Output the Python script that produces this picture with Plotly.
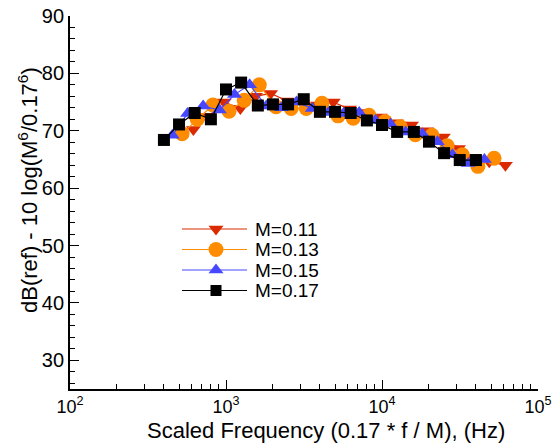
import plotly.graph_objects as go

# Scaled frequency (Hz) for each Mach number series
freq_m011 = [618, 773, 974, 1236, 1545, 1932, 2473, 3091, 3864, 4868, 6182, 7727,
             9736, 12364, 15455, 19318, 24727, 30909, 38636, 48682, 61818]
freq_m013 = [523, 654, 824, 1046, 1308, 1635, 2092, 2615, 3269, 4119, 5231, 6538,
             8238, 10462, 13077, 16346, 20923, 26154, 32692, 41192, 52308]
freq_m015 = [453, 567, 714, 907, 1133, 1417, 1813, 2267, 2833, 3570, 4533, 5667,
             7140, 9067, 11333, 14167, 18133, 22667, 28333, 35700, 45333]
freq_m017 = [400, 500, 630, 800, 1000, 1250, 1600, 2000, 2500, 3150, 4000, 5000,
             6300, 8000, 10000, 12500, 16000, 20000, 25000, 31500, 40000]

# Scaled levels dB(ref) - 10 log(M^6/0.17^6)
db_m011 = [70.2, 72.5, 75.0, 73.9, 76.0, 76.5, 75.2, 74.8, 74.5, 75.0, 73.8, 73.2,
           72.4, 71.4, 71.0, 70.0, 68.9, 66.9, 65.3, 64.6, 64.0]
db_m013 = [69.5, 72.0, 74.5, 73.4, 75.3, 78.0, 74.2, 73.9, 73.9, 74.8, 72.6, 72.2,
           72.7, 71.6, 70.7, 69.3, 69.2, 67.4, 65.8, 63.8, 65.2]
db_m015 = [69.2, 73.0, 74.3, 73.6, 76.3, 78.0, 74.3, 74.0, 75.0, 73.9, 73.2, 73.0,
           73.2, 71.8, 71.2, 69.8, 69.5, 68.1, 65.8, 64.3, 65.0]
db_m017 = [68.4, 71.1, 73.1, 72.0, 77.2, 78.4, 74.4, 74.6, 74.6, 75.5, 73.3, 73.3,
           73.1, 71.8, 71.0, 69.8, 69.8, 68.1, 66.1, 64.9, 64.9]

series_names = ["M=0.11", "M=0.13", "M=0.15", "M=0.17"]
x_tick_vals = [100, 1000, 10000, 100000]
x_tick_text = ["10<sup>2</sup>", "10<sup>3</sup>", "10<sup>4</sup>", "10<sup>5</sup>"]
y_tick_vals = [30, 40, 50, 60, 70, 80, 90]

colors = ["#dc2a00", "#ff8c00", "#4747ff", "#000000"]
symbols = ["triangle-down", "circle", "triangle-up", "square"]
msizes = [13, 15, 13, 12]
leg_msizes = [13, 15, 13, 11]

FONT = "Liberation Sans, Arial, Helvetica, sans-serif"

fig = go.Figure()
xs = [freq_m011, freq_m013, freq_m015, freq_m017]
ys = [db_m011, db_m013, db_m015, db_m017]
for i in range(4):
    fig.add_trace(go.Scatter(
        x=xs[i], y=ys[i], mode="lines+markers", name=series_names[i],
        line=dict(color=colors[i], width=1.2),
        marker=dict(symbol=symbols[i], size=msizes[i], color=colors[i], line=dict(width=0)),
        showlegend=False, xaxis="x", yaxis="y"))

# Custom legend drawn in pixel-like overlay coordinates
leg_y = [229, 249.5, 270, 290.5]
for i in range(4):
    fig.add_trace(go.Scatter(
        x=[182, 247], y=[leg_y[i], leg_y[i]], mode="lines",
        line=dict(color=colors[i], width=1.2), showlegend=False,
        xaxis="x2", yaxis="y2", hoverinfo="skip"))
    fig.add_trace(go.Scatter(
        x=[216], y=[leg_y[i]], mode="markers",
        marker=dict(symbol=symbols[i], size=leg_msizes[i], color=colors[i], line=dict(width=0)),
        showlegend=False, xaxis="x2", yaxis="y2", hoverinfo="skip"))
    fig.add_annotation(x=253, y=leg_y[i], xref="x2", yref="y2", text=series_names[i],
                       showarrow=False, xanchor="left", yanchor="middle",
                       font=dict(family=FONT, size=19, color="black"))

minor_x = []
for d in [100, 1000, 10000]:
    for m in range(2, 10):
        minor_x.append(d * m)

fig.update_layout(
    width=552, height=443,
    margin=dict(l=70, r=14, t=16, b=54, autoexpand=False),
    paper_bgcolor="white", plot_bgcolor="white",
    font=dict(family=FONT, size=20, color="black"),
    xaxis=dict(type="log", range=[2, 5], tickvals=x_tick_vals, ticktext=x_tick_text,
               ticks="inside", ticklen=9, tickwidth=1.2, tickcolor="black",
               showline=True, linecolor="black", linewidth=1.8, showgrid=False,
               zeroline=False, mirror=False, tickfont=dict(size=18), automargin=False,
               ticklabeloverflow="allow",
               minor=dict(tickvals=minor_x, ticks="inside", ticklen=5, tickwidth=1,
                          tickcolor="black", showgrid=False)),
    yaxis=dict(range=[25, 90], tickvals=y_tick_vals, ticks="inside", ticklen=9,
               tickwidth=1.2, tickcolor="black", showline=True, linecolor="black",
               linewidth=1.8, showgrid=False, zeroline=False, mirror=False,
               tickfont=dict(size=20), automargin=False, ticklabeloverflow="allow",
               minor=dict(dtick=2, tick0=0, ticks="inside", ticklen=5, tickwidth=1,
                          tickcolor="black", showgrid=False)),
    xaxis2=dict(overlaying="x", range=[70, 538], visible=False, domain=[0, 1],
                automargin=False),
    yaxis2=dict(overlaying="y", range=[389, 16], visible=False, domain=[0, 1],
                automargin=False),
    showlegend=False,
)

fig.add_annotation(x=0.547, y=-0.1126, xref="paper", yref="paper",
                   text="Scaled Frequency (0.17 * f / M), (Hz)", showarrow=False,
                   xanchor="center", yanchor="middle",
                   font=dict(family=FONT, size=22, color="black"))
fig.add_annotation(x=-0.0897, y=0.5335, xref="paper", yref="paper",
                   text="dB(ref) - 10 log(M<sup>6</sup>/0.17<sup>6</sup>)", showarrow=False,
                   textangle=-90, xanchor="center", yanchor="middle",
                   font=dict(family=FONT, size=22, color="black"))

fig.write_html("out.html")
